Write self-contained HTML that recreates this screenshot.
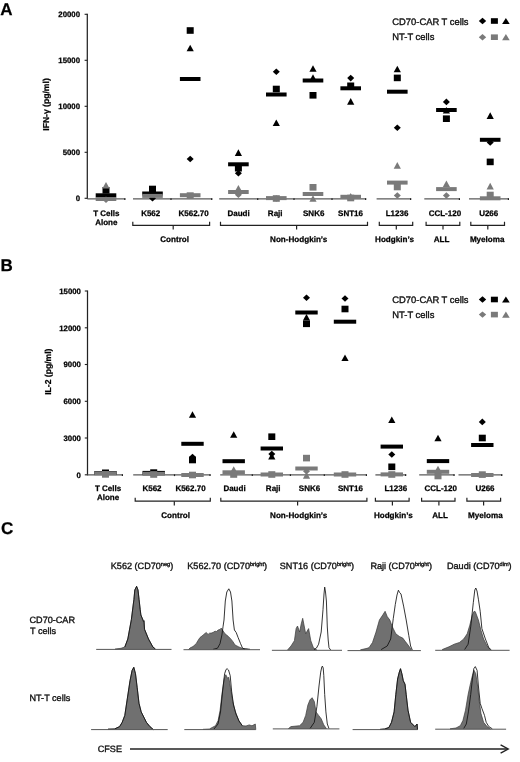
<!DOCTYPE html>
<html><head><meta charset="utf-8"><title>Figure</title>
<style>html,body{margin:0;padding:0;background:#fff;}body{width:520px;height:762px;overflow:hidden;font-family:"Liberation Sans",sans-serif;}svg{display:block;will-change:transform;}</style></head>
<body>
<svg width="520" height="762" viewBox="0 0 520 762" font-family="'Liberation Sans', sans-serif" text-rendering="geometricPrecision">
<rect width="520" height="762" fill="#fff"/>
<text x="0.2" y="15.3" font-size="17" text-anchor="start" font-weight="bold" fill="#000" stroke="#000" stroke-width="0.25">A</text>
<text x="0.6" y="270.9" font-size="17" text-anchor="start" font-weight="bold" fill="#000" stroke="#000" stroke-width="0.25">B</text>
<text x="0.9" y="534.3" font-size="17" text-anchor="start" font-weight="bold" fill="#000" stroke="#000" stroke-width="0.25">C</text>
<line x1="87.3" y1="13.8" x2="87.3" y2="198.9" stroke="#222" stroke-width="1.25"/>
<line x1="84.6" y1="14.3" x2="87.3" y2="14.3" stroke="#222" stroke-width="1.1"/>
<text x="80" y="17.1" font-size="7.8" text-anchor="end" font-weight="bold" fill="#000" stroke="#000" stroke-width="0.25">20000</text>
<line x1="84.6" y1="60.3" x2="87.3" y2="60.3" stroke="#222" stroke-width="1.1"/>
<text x="80" y="63.1" font-size="7.8" text-anchor="end" font-weight="bold" fill="#000" stroke="#000" stroke-width="0.25">15000</text>
<line x1="84.6" y1="106.3" x2="87.3" y2="106.3" stroke="#222" stroke-width="1.1"/>
<text x="80" y="109.1" font-size="7.8" text-anchor="end" font-weight="bold" fill="#000" stroke="#000" stroke-width="0.25">10000</text>
<line x1="84.6" y1="152.3" x2="87.3" y2="152.3" stroke="#222" stroke-width="1.1"/>
<text x="80" y="155.1" font-size="7.8" text-anchor="end" font-weight="bold" fill="#000" stroke="#000" stroke-width="0.25">5000</text>
<line x1="84.6" y1="198.3" x2="87.3" y2="198.3" stroke="#222" stroke-width="1.1"/>
<text x="80" y="201.1" font-size="7.8" text-anchor="end" font-weight="bold" fill="#000" stroke="#000" stroke-width="0.25">0</text>
<text x="48.9" y="104.5" font-size="8.6" text-anchor="middle" font-weight="bold" fill="#000" stroke="#000" stroke-width="0.25" transform="rotate(-90 48.9 104.5)">IFN-γ (pg/ml)</text>
<line x1="87.3" y1="198.9" x2="125.4" y2="198.9" stroke="#5a5a5a" stroke-width="1.3"/>
<line x1="124.8" y1="198.3" x2="124.8" y2="200.1" stroke="#222" stroke-width="1.2"/>
<line x1="133" y1="198.9" x2="212.3" y2="198.9" stroke="#5a5a5a" stroke-width="1.3"/>
<line x1="211.7" y1="198.3" x2="211.7" y2="200.1" stroke="#222" stroke-width="1.2"/>
<line x1="219.2" y1="198.9" x2="366.2" y2="198.9" stroke="#5a5a5a" stroke-width="1.3"/>
<line x1="365.6" y1="198.3" x2="365.6" y2="200.1" stroke="#222" stroke-width="1.2"/>
<line x1="376.6" y1="198.9" x2="411.2" y2="198.9" stroke="#5a5a5a" stroke-width="1.3"/>
<line x1="410.6" y1="198.3" x2="410.6" y2="200.1" stroke="#222" stroke-width="1.2"/>
<line x1="424.3" y1="198.9" x2="460" y2="198.9" stroke="#5a5a5a" stroke-width="1.3"/>
<line x1="459.4" y1="198.3" x2="459.4" y2="200.1" stroke="#222" stroke-width="1.2"/>
<line x1="469" y1="198.9" x2="509" y2="198.9" stroke="#5a5a5a" stroke-width="1.3"/>
<line x1="508.4" y1="198.3" x2="508.4" y2="200.1" stroke="#222" stroke-width="1.2"/>
<line x1="171" y1="198.3" x2="171" y2="200.1" stroke="#222" stroke-width="1.2"/>
<line x1="257.7" y1="198.3" x2="257.7" y2="200.1" stroke="#222" stroke-width="1.2"/>
<line x1="294" y1="198.3" x2="294" y2="200.1" stroke="#222" stroke-width="1.2"/>
<line x1="332" y1="198.3" x2="332" y2="200.1" stroke="#222" stroke-width="1.2"/>
<rect x="95.7" y="193.3" width="20.6" height="4" fill="#000"/>
<rect x="102.5" y="187" width="7" height="6.6" fill="#000"/>
<path d="M152.5 195L156 198.3L152.5 201.6L149 198.3Z" fill="#000"/>
<rect x="149" y="185.7" width="7" height="6.6" fill="#000"/>
<rect x="142.2" y="191.5" width="20.6" height="4" fill="#000"/>
<rect x="186.7" y="27.2" width="7" height="6.6" fill="#000"/>
<path d="M190.2 44.7L193.8 51.3L186.6 51.3Z" fill="#000"/>
<rect x="179.9" y="77" width="20.6" height="4" fill="#000"/>
<path d="M190.2 155.7L193.7 159L190.2 162.3L186.7 159Z" fill="#000"/>
<path d="M238.4 149.3L242 155.9L234.8 155.9Z" fill="#000"/>
<rect x="228.1" y="162.3" width="20.6" height="4" fill="#000"/>
<rect x="234.9" y="164.9" width="7" height="6.6" fill="#000"/>
<path d="M238.4 170L241.9 173.3L238.4 176.6L234.9 173.3Z" fill="#000"/>
<path d="M276.3 68.5L279.8 71.8L276.3 75.1L272.8 71.8Z" fill="#000"/>
<rect x="272.8" y="85.7" width="7" height="6.6" fill="#000"/>
<rect x="266" y="92.5" width="20.6" height="4" fill="#000"/>
<path d="M276.3 119.4L279.9 126L272.7 126Z" fill="#000"/>
<path d="M313 65.2L316.6 71.8L309.4 71.8Z" fill="#000"/>
<path d="M313 74.3L316.6 80.9L309.4 80.9Z" fill="#000"/>
<rect x="302.7" y="78.5" width="20.6" height="4" fill="#000"/>
<rect x="309.5" y="92" width="7" height="6.6" fill="#000"/>
<path d="M350.7 74.8L354.2 78.1L350.7 81.4L347.2 78.1Z" fill="#000"/>
<rect x="347.2" y="82.5" width="7" height="6.6" fill="#000"/>
<rect x="340.4" y="86.3" width="20.6" height="4" fill="#000"/>
<path d="M350.7 98.1L354.3 104.7L347.1 104.7Z" fill="#000"/>
<path d="M397.3 65.7L400.9 72.3L393.7 72.3Z" fill="#000"/>
<rect x="393.8" y="74.6" width="7" height="6.6" fill="#000"/>
<rect x="387" y="89.7" width="20.6" height="4" fill="#000"/>
<path d="M397.3 124.4L400.8 127.7L397.3 131L393.8 127.7Z" fill="#000"/>
<path d="M446.4 98.6L449.9 101.9L446.4 105.2L442.9 101.9Z" fill="#000"/>
<path d="M446.4 107L450 113.6L442.8 113.6Z" fill="#000"/>
<rect x="436.1" y="108" width="20.6" height="4" fill="#000"/>
<rect x="442.9" y="115.4" width="7" height="6.6" fill="#000"/>
<path d="M490.2 112.3L493.8 118.9L486.6 118.9Z" fill="#000"/>
<path d="M490.2 139.2L493.7 142.5L490.2 145.8L486.7 142.5Z" fill="#000"/>
<rect x="479.9" y="137.8" width="20.6" height="4" fill="#000"/>
<rect x="486.7" y="158.6" width="7" height="6.6" fill="#000"/>
<path d="M106 181.9L109.6 188.5L102.4 188.5Z" fill="#7a7a7a"/>
<rect x="95.7" y="197" width="20.6" height="4" fill="#7a7a7a"/>
<path d="M106 196.5L109.5 199.8L106 203.1L102.5 199.8Z" fill="#7a7a7a"/>
<rect x="142.2" y="193.9" width="20.6" height="4" fill="#7a7a7a"/>
<rect x="186.7" y="192.3" width="7" height="6.6" fill="#7a7a7a"/>
<rect x="179.9" y="193.2" width="20.6" height="4" fill="#7a7a7a"/>
<path d="M238.4 184.9L242 191.5L234.8 191.5Z" fill="#7a7a7a"/>
<rect x="228.1" y="190" width="20.6" height="4" fill="#7a7a7a"/>
<path d="M238.4 191.5L241.9 194.8L238.4 198.1L234.9 194.8Z" fill="#7a7a7a"/>
<rect x="272.8" y="195.2" width="7" height="6.6" fill="#7a7a7a"/>
<rect x="266" y="196.1" width="20.6" height="4" fill="#7a7a7a"/>
<path d="M276.3 195.2L279.8 198.5L276.3 201.8L272.8 198.5Z" fill="#7a7a7a"/>
<rect x="309.5" y="184" width="7" height="6.6" fill="#7a7a7a"/>
<rect x="302.7" y="192" width="20.6" height="4" fill="#7a7a7a"/>
<path d="M313 195.2L316.6 201.8L309.4 201.8Z" fill="#7a7a7a"/>
<path d="M350.7 193L354.3 199.6L347.1 199.6Z" fill="#7a7a7a"/>
<rect x="347.2" y="194.7" width="7" height="6.6" fill="#7a7a7a"/>
<rect x="340.4" y="194.8" width="20.6" height="4" fill="#7a7a7a"/>
<path d="M397.3 162.1L400.9 168.7L393.7 168.7Z" fill="#7a7a7a"/>
<rect x="387" y="180.6" width="20.6" height="4" fill="#7a7a7a"/>
<rect x="393.8" y="183.7" width="7" height="6.6" fill="#7a7a7a"/>
<path d="M397.3 192.2L400.8 195.5L397.3 198.8L393.8 195.5Z" fill="#7a7a7a"/>
<path d="M446.4 180.4L450 187L442.8 187Z" fill="#7a7a7a"/>
<rect x="436.1" y="187.1" width="20.6" height="4" fill="#7a7a7a"/>
<path d="M446.4 192.2L449.9 195.5L446.4 198.8L442.9 195.5Z" fill="#7a7a7a"/>
<path d="M490.2 182.8L493.8 189.4L486.6 189.4Z" fill="#7a7a7a"/>
<rect x="486.7" y="191.7" width="7" height="6.6" fill="#7a7a7a"/>
<rect x="479.9" y="196.3" width="20.6" height="4" fill="#7a7a7a"/>
<text x="106.3" y="216.2" font-size="8" text-anchor="middle" font-weight="bold" fill="#000" stroke="#000" stroke-width="0.25">T Cells</text>
<text x="106.3" y="224.7" font-size="8" text-anchor="middle" font-weight="bold" fill="#000" stroke="#000" stroke-width="0.25">Alone</text>
<text x="150.7" y="216.2" font-size="8" text-anchor="middle" font-weight="bold" fill="#000" stroke="#000" stroke-width="0.25">K562</text>
<text x="193.6" y="216.2" font-size="8" text-anchor="middle" font-weight="bold" fill="#000" stroke="#000" stroke-width="0.25">K562.70</text>
<text x="238.6" y="216.2" font-size="8" text-anchor="middle" font-weight="bold" fill="#000" stroke="#000" stroke-width="0.25">Daudi</text>
<text x="275.2" y="216.2" font-size="8" text-anchor="middle" font-weight="bold" fill="#000" stroke="#000" stroke-width="0.25">Raji</text>
<text x="313.7" y="216.2" font-size="8" text-anchor="middle" font-weight="bold" fill="#000" stroke="#000" stroke-width="0.25">SNK6</text>
<text x="350.5" y="216.2" font-size="8" text-anchor="middle" font-weight="bold" fill="#000" stroke="#000" stroke-width="0.25">SNT16</text>
<text x="397" y="216.2" font-size="8" text-anchor="middle" font-weight="bold" fill="#000" stroke="#000" stroke-width="0.25">L1236</text>
<text x="444.9" y="216.2" font-size="8" text-anchor="middle" font-weight="bold" fill="#000" stroke="#000" stroke-width="0.25">CCL-120</text>
<text x="488.7" y="216.2" font-size="8" text-anchor="middle" font-weight="bold" fill="#000" stroke="#000" stroke-width="0.25">U266</text>
<path d="M132.8 221.8V225.3H209.6V221.8" fill="none" stroke="#222" stroke-width="1.2"/>
<line x1="173.2" y1="225.3" x2="173.2" y2="229.5" stroke="#222" stroke-width="1.2"/>
<text x="174.6" y="241.8" font-size="8.1" text-anchor="middle" font-weight="bold" fill="#000" stroke="#000" stroke-width="0.25">Control</text>
<path d="M220.5 221.8V225.3H367.5V221.8" fill="none" stroke="#222" stroke-width="1.2"/>
<line x1="296.6" y1="225.3" x2="296.6" y2="229.5" stroke="#222" stroke-width="1.2"/>
<text x="298.7" y="241.8" font-size="8.1" text-anchor="middle" font-weight="bold" fill="#000" stroke="#000" stroke-width="0.25">Non-Hodgkin’s</text>
<path d="M379.3 221.8V225.3H412.7V221.8" fill="none" stroke="#222" stroke-width="1.2"/>
<line x1="396.3" y1="225.3" x2="396.3" y2="229.5" stroke="#222" stroke-width="1.2"/>
<text x="394.5" y="241.8" font-size="8.1" text-anchor="middle" font-weight="bold" fill="#000" stroke="#000" stroke-width="0.25">Hodgkin’s</text>
<path d="M426.1 221.8V225.3H459.8V221.8" fill="none" stroke="#222" stroke-width="1.2"/>
<line x1="443" y1="225.3" x2="443" y2="229.5" stroke="#222" stroke-width="1.2"/>
<text x="441.6" y="241.8" font-size="8.1" text-anchor="middle" font-weight="bold" fill="#000" stroke="#000" stroke-width="0.25">ALL</text>
<path d="M470.8 221.8V225.3H504.5V221.8" fill="none" stroke="#222" stroke-width="1.2"/>
<line x1="487.8" y1="225.3" x2="487.8" y2="229.5" stroke="#222" stroke-width="1.2"/>
<text x="487.2" y="241.8" font-size="8.1" text-anchor="middle" font-weight="bold" fill="#000" stroke="#000" stroke-width="0.25">Myeloma</text>
<text x="392.3" y="25.1" font-size="9.4" text-anchor="start" fill="#111" stroke="#111" stroke-width="0.35">CD70-CAR T cells</text>
<text x="392.3" y="40.1" font-size="9.4" text-anchor="start" fill="#111" stroke="#111" stroke-width="0.35">NT-T cells</text>
<path d="M482.5 17.8L486.2 21L482.5 24.2L478.8 21Z" fill="#000"/>
<rect x="490.9" y="18.2" width="7" height="5.6" fill="#000"/>
<path d="M505.9 17.9L509.7 24.1L502.1 24.1Z" fill="#000"/>
<path d="M482.5 34L486.2 37.2L482.5 40.4L478.8 37.2Z" fill="#7a7a7a"/>
<rect x="490.9" y="34.4" width="7" height="5.6" fill="#7a7a7a"/>
<path d="M505.9 34.1L509.7 40.3L502.1 40.3Z" fill="#7a7a7a"/>
<line x1="87.5" y1="290.5" x2="87.5" y2="475.4" stroke="#222" stroke-width="1.25"/>
<line x1="84.8" y1="291" x2="87.5" y2="291" stroke="#222" stroke-width="1.1"/>
<text x="80.9" y="293.8" font-size="7.8" text-anchor="end" font-weight="bold" fill="#000" stroke="#000" stroke-width="0.25">15000</text>
<line x1="84.8" y1="327.8" x2="87.5" y2="327.8" stroke="#222" stroke-width="1.1"/>
<text x="80.9" y="330.6" font-size="7.8" text-anchor="end" font-weight="bold" fill="#000" stroke="#000" stroke-width="0.25">12000</text>
<line x1="84.8" y1="364.5" x2="87.5" y2="364.5" stroke="#222" stroke-width="1.1"/>
<text x="80.9" y="367.3" font-size="7.8" text-anchor="end" font-weight="bold" fill="#000" stroke="#000" stroke-width="0.25">9000</text>
<line x1="84.8" y1="401.3" x2="87.5" y2="401.3" stroke="#222" stroke-width="1.1"/>
<text x="80.9" y="404.1" font-size="7.8" text-anchor="end" font-weight="bold" fill="#000" stroke="#000" stroke-width="0.25">6000</text>
<line x1="84.8" y1="438" x2="87.5" y2="438" stroke="#222" stroke-width="1.1"/>
<text x="80.9" y="440.8" font-size="7.8" text-anchor="end" font-weight="bold" fill="#000" stroke="#000" stroke-width="0.25">3000</text>
<line x1="84.8" y1="474.8" x2="87.5" y2="474.8" stroke="#222" stroke-width="1.1"/>
<text x="80.9" y="477.6" font-size="7.8" text-anchor="end" font-weight="bold" fill="#000" stroke="#000" stroke-width="0.25">0</text>
<text x="50.9" y="371.7" font-size="8.6" text-anchor="middle" font-weight="bold" fill="#000" stroke="#000" stroke-width="0.25" transform="rotate(-90 50.9 371.7)">IL-2 (pg/ml)</text>
<line x1="87.5" y1="474.9" x2="123" y2="474.9" stroke="#5a5a5a" stroke-width="1.3"/>
<line x1="122.4" y1="474.3" x2="122.4" y2="476.1" stroke="#222" stroke-width="1.2"/>
<line x1="133.2" y1="474.9" x2="210.6" y2="474.9" stroke="#5a5a5a" stroke-width="1.3"/>
<line x1="210" y1="474.3" x2="210" y2="476.1" stroke="#222" stroke-width="1.2"/>
<line x1="220.2" y1="474.9" x2="367" y2="474.9" stroke="#5a5a5a" stroke-width="1.3"/>
<line x1="366.4" y1="474.3" x2="366.4" y2="476.1" stroke="#222" stroke-width="1.2"/>
<line x1="375.4" y1="474.9" x2="406.2" y2="474.9" stroke="#5a5a5a" stroke-width="1.3"/>
<line x1="405.6" y1="474.3" x2="405.6" y2="476.1" stroke="#222" stroke-width="1.2"/>
<line x1="419.2" y1="474.9" x2="454.6" y2="474.9" stroke="#5a5a5a" stroke-width="1.3"/>
<line x1="454" y1="474.3" x2="454" y2="476.1" stroke="#222" stroke-width="1.2"/>
<line x1="458.5" y1="474.9" x2="502.3" y2="474.9" stroke="#5a5a5a" stroke-width="1.3"/>
<line x1="501.7" y1="474.3" x2="501.7" y2="476.1" stroke="#222" stroke-width="1.2"/>
<line x1="174.5" y1="474.3" x2="174.5" y2="476.1" stroke="#222" stroke-width="1.2"/>
<line x1="252.3" y1="474.3" x2="252.3" y2="476.1" stroke="#222" stroke-width="1.2"/>
<line x1="290.4" y1="474.3" x2="290.4" y2="476.1" stroke="#222" stroke-width="1.2"/>
<line x1="324.3" y1="474.3" x2="324.3" y2="476.1" stroke="#222" stroke-width="1.2"/>
<rect x="94.3" y="471" width="22.4" height="4" fill="#000"/>
<rect x="102" y="469.5" width="7" height="6.6" fill="#000"/>
<rect x="142.5" y="470.9" width="22.4" height="4" fill="#000"/>
<rect x="150.2" y="469.3" width="7" height="6.6" fill="#000"/>
<path d="M192.5 411.2L196.1 417.8L188.9 417.8Z" fill="#000"/>
<rect x="181.3" y="441.8" width="22.4" height="4" fill="#000"/>
<path d="M192.5 453.7L196 457L192.5 460.3L189 457Z" fill="#000"/>
<rect x="189" y="456.7" width="7" height="6.6" fill="#000"/>
<path d="M233.7 431.2L237.3 437.8L230.1 437.8Z" fill="#000"/>
<rect x="222.5" y="459.2" width="22.4" height="4" fill="#000"/>
<rect x="268.3" y="433.4" width="7" height="6.6" fill="#000"/>
<rect x="260.6" y="446.5" width="22.4" height="4" fill="#000"/>
<path d="M271.8 450.7L275.3 454L271.8 457.3L268.3 454Z" fill="#000"/>
<path d="M271.8 452.8L275.4 459.4L268.2 459.4Z" fill="#000"/>
<path d="M306.5 294.4L310 297.7L306.5 301L303 297.7Z" fill="#000"/>
<rect x="295.3" y="310.5" width="22.4" height="4" fill="#000"/>
<path d="M306.5 314L310.1 320.6L302.9 320.6Z" fill="#000"/>
<rect x="303" y="320.5" width="7" height="6.6" fill="#000"/>
<path d="M345 295.2L348.5 298.5L345 301.8L341.5 298.5Z" fill="#000"/>
<rect x="341.5" y="305.7" width="7" height="6.6" fill="#000"/>
<rect x="333.8" y="319.7" width="22.4" height="4" fill="#000"/>
<path d="M345 354.4L348.6 361L341.4 361Z" fill="#000"/>
<path d="M391.8 416.4L395.4 423L388.2 423Z" fill="#000"/>
<rect x="380.6" y="444.6" width="22.4" height="4" fill="#000"/>
<path d="M391.8 451.2L395.3 454.5L391.8 457.8L388.3 454.5Z" fill="#000"/>
<rect x="388.3" y="463.5" width="7" height="6.6" fill="#000"/>
<path d="M438 434.7L441.6 441.3L434.4 441.3Z" fill="#000"/>
<rect x="426.8" y="459.1" width="22.4" height="4" fill="#000"/>
<path d="M482.3 418.6L485.8 421.9L482.3 425.2L478.8 421.9Z" fill="#000"/>
<rect x="478.8" y="434.7" width="7" height="6.6" fill="#000"/>
<rect x="471.1" y="443" width="22.4" height="4" fill="#000"/>
<rect x="94.3" y="471.3" width="22.4" height="4" fill="#7a7a7a"/>
<rect x="102" y="471.1" width="7" height="6.6" fill="#7a7a7a"/>
<rect x="142.5" y="471.8" width="22.4" height="4" fill="#7a7a7a"/>
<rect x="150.2" y="471.2" width="7" height="6.6" fill="#7a7a7a"/>
<rect x="189" y="471.7" width="7" height="6.6" fill="#7a7a7a"/>
<rect x="181.3" y="473" width="22.4" height="4" fill="#7a7a7a"/>
<path d="M233.7 466.2L237.3 472.8L230.1 472.8Z" fill="#7a7a7a"/>
<rect x="222.5" y="470.3" width="22.4" height="4" fill="#7a7a7a"/>
<rect x="230.2" y="471.2" width="7" height="6.6" fill="#7a7a7a"/>
<rect x="260.6" y="472.5" width="22.4" height="4" fill="#7a7a7a"/>
<rect x="268.3" y="471.2" width="7" height="6.6" fill="#7a7a7a"/>
<rect x="303" y="454.8" width="7" height="6.6" fill="#7a7a7a"/>
<path d="M306.5 467.9L310 471.2L306.5 474.5L303 471.2Z" fill="#7a7a7a"/>
<rect x="295.3" y="466.5" width="22.4" height="4" fill="#7a7a7a"/>
<path d="M306.5 472.1L310.1 478.7L302.9 478.7Z" fill="#7a7a7a"/>
<rect x="333.8" y="472.5" width="22.4" height="4" fill="#7a7a7a"/>
<rect x="341.5" y="471.2" width="7" height="6.6" fill="#7a7a7a"/>
<rect x="380.6" y="472.4" width="22.4" height="4" fill="#7a7a7a"/>
<rect x="388.3" y="471.2" width="7" height="6.6" fill="#7a7a7a"/>
<path d="M438 465.7L441.6 472.3L434.4 472.3Z" fill="#7a7a7a"/>
<rect x="426.8" y="469.8" width="22.4" height="4" fill="#7a7a7a"/>
<rect x="434.5" y="472.7" width="7" height="6.6" fill="#7a7a7a"/>
<rect x="471.1" y="473" width="22.4" height="4" fill="#7a7a7a"/>
<rect x="478.8" y="471.3" width="7" height="6.6" fill="#7a7a7a"/>
<text x="108" y="491.1" font-size="8" text-anchor="middle" font-weight="bold" fill="#000" stroke="#000" stroke-width="0.25">T Cells</text>
<text x="108" y="499.6" font-size="8" text-anchor="middle" font-weight="bold" fill="#000" stroke="#000" stroke-width="0.25">Alone</text>
<text x="152" y="491.1" font-size="8" text-anchor="middle" font-weight="bold" fill="#000" stroke="#000" stroke-width="0.25">K562</text>
<text x="190.5" y="491.1" font-size="8" text-anchor="middle" font-weight="bold" fill="#000" stroke="#000" stroke-width="0.25">K562.70</text>
<text x="234.5" y="491.1" font-size="8" text-anchor="middle" font-weight="bold" fill="#000" stroke="#000" stroke-width="0.25">Daudi</text>
<text x="273.2" y="491.1" font-size="8" text-anchor="middle" font-weight="bold" fill="#000" stroke="#000" stroke-width="0.25">Raji</text>
<text x="309.5" y="491.1" font-size="8" text-anchor="middle" font-weight="bold" fill="#000" stroke="#000" stroke-width="0.25">SNK6</text>
<text x="350.4" y="491.1" font-size="8" text-anchor="middle" font-weight="bold" fill="#000" stroke="#000" stroke-width="0.25">SNT16</text>
<text x="395.8" y="491.1" font-size="8" text-anchor="middle" font-weight="bold" fill="#000" stroke="#000" stroke-width="0.25">L1236</text>
<text x="440.7" y="491.1" font-size="8" text-anchor="middle" font-weight="bold" fill="#000" stroke="#000" stroke-width="0.25">CCL-120</text>
<text x="485" y="491.1" font-size="8" text-anchor="middle" font-weight="bold" fill="#000" stroke="#000" stroke-width="0.25">U266</text>
<path d="M135.2 497.7V501.2H210.3V497.7" fill="none" stroke="#222" stroke-width="1.2"/>
<line x1="174.3" y1="501.2" x2="174.3" y2="505.4" stroke="#222" stroke-width="1.2"/>
<text x="175.6" y="517.9" font-size="8.1" text-anchor="middle" font-weight="bold" fill="#000" stroke="#000" stroke-width="0.25">Control</text>
<path d="M220.8 497.7V501.2H366.9V497.7" fill="none" stroke="#222" stroke-width="1.2"/>
<line x1="297.6" y1="501.2" x2="297.6" y2="505.4" stroke="#222" stroke-width="1.2"/>
<text x="298.7" y="517.9" font-size="8.1" text-anchor="middle" font-weight="bold" fill="#000" stroke="#000" stroke-width="0.25">Non-Hodgkin’s</text>
<path d="M375.4 497.7V501.2H409.1V497.7" fill="none" stroke="#222" stroke-width="1.2"/>
<line x1="392.4" y1="501.2" x2="392.4" y2="505.4" stroke="#222" stroke-width="1.2"/>
<text x="393.3" y="517.9" font-size="8.1" text-anchor="middle" font-weight="bold" fill="#000" stroke="#000" stroke-width="0.25">Hodgkin’s</text>
<path d="M421.6 497.7V501.2H455V497.7" fill="none" stroke="#222" stroke-width="1.2"/>
<line x1="438.9" y1="501.2" x2="438.9" y2="505.4" stroke="#222" stroke-width="1.2"/>
<text x="440" y="517.9" font-size="8.1" text-anchor="middle" font-weight="bold" fill="#000" stroke="#000" stroke-width="0.25">ALL</text>
<path d="M466.9 497.7V501.2H500.6V497.7" fill="none" stroke="#222" stroke-width="1.2"/>
<line x1="483.6" y1="501.2" x2="483.6" y2="505.4" stroke="#222" stroke-width="1.2"/>
<text x="485.4" y="517.9" font-size="8.1" text-anchor="middle" font-weight="bold" fill="#000" stroke="#000" stroke-width="0.25">Myeloma</text>
<text x="392.3" y="303.1" font-size="9.4" text-anchor="start" fill="#111" stroke="#111" stroke-width="0.35">CD70-CAR T cells</text>
<text x="392.3" y="318.2" font-size="9.4" text-anchor="start" fill="#111" stroke="#111" stroke-width="0.35">NT-T cells</text>
<path d="M482.5 296.3L486.2 299.5L482.5 302.7L478.8 299.5Z" fill="#000"/>
<rect x="490.9" y="296.7" width="7" height="5.6" fill="#000"/>
<path d="M505.9 296.4L509.7 302.6L502.1 302.6Z" fill="#000"/>
<path d="M482.5 311.4L486.2 314.6L482.5 317.8L478.8 314.6Z" fill="#7a7a7a"/>
<rect x="490.9" y="311.8" width="7" height="5.6" fill="#7a7a7a"/>
<path d="M505.9 311.5L509.7 317.7L502.1 317.7Z" fill="#7a7a7a"/>
<text x="110.8" y="568.6" font-size="9.1" text-anchor="start" fill="#111" stroke="#111" stroke-width="0.35">K562 (CD70<tspan font-size="5.6" dy="-3">neg</tspan><tspan dy="3">)</tspan></text>
<text x="187.3" y="568.6" font-size="9.1" text-anchor="start" fill="#111" stroke="#111" stroke-width="0.35">K562.70 (CD70<tspan font-size="5.6" dy="-3">bright</tspan><tspan dy="3">)</tspan></text>
<text x="279.8" y="568.6" font-size="9.1" text-anchor="start" fill="#111" stroke="#111" stroke-width="0.35">SNT16 (CD70<tspan font-size="5.6" dy="-3">bright</tspan><tspan dy="3">)</tspan></text>
<text x="370.4" y="568.6" font-size="9.1" text-anchor="start" fill="#111" stroke="#111" stroke-width="0.35">Raji (CD70<tspan font-size="5.6" dy="-3">bright</tspan><tspan dy="3">)</tspan></text>
<text x="447" y="568.6" font-size="9.1" text-anchor="start" fill="#111" stroke="#111" stroke-width="0.35">Daudi (CD70<tspan font-size="5.6" dy="-3">dim</tspan><tspan dy="3">)</tspan></text>
<text x="29.5" y="622.9" font-size="9.1" text-anchor="start" fill="#111" stroke="#111" stroke-width="0.35">CD70-CAR</text>
<text x="30" y="634.2" font-size="9.1" text-anchor="start" fill="#111" stroke="#111" stroke-width="0.35">T cells</text>
<text x="29.5" y="700.8" font-size="9.1" text-anchor="start" fill="#111" stroke="#111" stroke-width="0.35">NT-T cells</text>
<text x="97.7" y="751.9" font-size="9.1" text-anchor="start" fill="#111" stroke="#111" stroke-width="0.35">CFSE</text>
<line x1="130" y1="749" x2="507.5" y2="749" stroke="#222" stroke-width="1.4"/>
<path d="M500.6 744.8L508.2 749L500.6 753.1" fill="none" stroke="#222" stroke-width="1.4"/>
<path d="M115,649.4 L115,649 121,648.3 124.8,647 127.8,639 131.4,619.4 133.2,605 133.9,599.7 134.8,590 136.6,586.3 138,590 139.1,599.7 140.2,609.5 140.9,615 143.5,621.3 144,620.8 144.5,629.2 148.5,639 152.9,647 155.4,649 L155.4,649.4 Z" fill="#707070"/>
<polyline points="115,649 121,648.3 124.8,647 127.8,639 131.4,619.4 133.2,605 133.9,599.7 134.8,590 136.6,586.3 138,590 139.1,599.7 140.2,609.5 140.9,615 143.5,621.3 144,620.8 144.5,629.2 148.5,639 152.9,647 155.4,649" fill="none" stroke="#3a3a3a" stroke-width="0.7" stroke-linejoin="round"/>
<polyline points="124.8,647 127.8,639 131.4,619.4 133.2,605 133.9,599.7 134.8,590 136.6,586.3 138,590 139.1,599.7 140.2,609.5 140.9,615 143.5,621.3 144,620.8 144.5,629.2 148.5,639 152.9,647 155.4,649" fill="none" stroke="#111" stroke-width="0.85" stroke-linejoin="round"/>
<line x1="96.2" y1="649.4" x2="171.5" y2="649.4" stroke="#555" stroke-width="1"/>
<path d="M188.5,649.7 L188.5,649.5 190,648 193,646.5 196.2,643.7 198,640.5 200,637.5 202,636 203.8,634.4 206.2,632.5 208.1,634.4 209.5,633.2 211.2,633.1 213,632.5 215,631.2 216.5,631.5 218.1,630 220,629.5 221.2,628.1 222.5,630 225,633.8 228.1,636.2 231.2,639.4 233.1,641.9 235,645 238.8,646.9 242.5,648.5 246,648.6 250,649.2 L250,649.7 Z" fill="#707070"/>
<polyline points="188.5,649.5 190,648 193,646.5 196.2,643.7 198,640.5 200,637.5 202,636 203.8,634.4 206.2,632.5 208.1,634.4 209.5,633.2 211.2,633.1 213,632.5 215,631.2 216.5,631.5 218.1,630 220,629.5 221.2,628.1 222.5,630 225,633.8 228.1,636.2 231.2,639.4 233.1,641.9 235,645 238.8,646.9 242.5,648.5 246,648.6 250,649.2" fill="none" stroke="#3a3a3a" stroke-width="0.7" stroke-linejoin="round"/>
<polyline points="213,649.4 217.5,648.2 220,643.7 221.9,635 223.1,626.2 224,620 225.3,601 226.8,592 228.8,588.8 230.5,592 231.9,601 233.1,620 234.4,630 236.2,632.5 238.1,637.5 240.6,643.7 242.5,648.1 245,649.3" fill="none" stroke="#111" stroke-width="0.85" stroke-linejoin="round"/>
<line x1="183.5" y1="649.7" x2="260" y2="649.7" stroke="#555" stroke-width="1"/>
<path d="M287.5,650.3 L287.5,650 291,646 294.4,640.7 296.1,628.6 297.5,626 299.6,632 301.2,624 302.7,618.3 304,625 305.7,633.8 307.2,631 308.6,628.6 310.8,640.7 313.4,647.7 316.9,650 L316.9,650.3 Z" fill="#707070"/>
<polyline points="287.5,650 291,646 294.4,640.7 296.1,628.6 297.5,626 299.6,632 301.2,624 302.7,618.3 304,625 305.7,633.8 307.2,631 308.6,628.6 310.8,640.7 313.4,647.7 316.9,650" fill="none" stroke="#3a3a3a" stroke-width="0.7" stroke-linejoin="round"/>
<polyline points="314,649.8 316.5,648 318.6,644.2 321.2,632 323,609.6 324,594 324.7,587.1 325.5,592 326.4,601 327.3,627 328.2,640 329,647.7 330.7,650" fill="none" stroke="#111" stroke-width="0.85" stroke-linejoin="round"/>
<line x1="271.9" y1="650.3" x2="342" y2="650.3" stroke="#555" stroke-width="1"/>
<path d="M360.4,650.6 L360.4,649.8 366,648.6 369,647.7 372.5,642.5 376,632.1 379.4,620 382.9,614.8 385.1,611.3 387.2,616.5 389.8,620 392.4,626.9 395.8,633.8 399.3,636.4 402.8,638.1 405.4,641.6 408.8,646 411.4,650 L411.4,650.6 Z" fill="#707070"/>
<polyline points="360.4,649.8 366,648.6 369,647.7 372.5,642.5 376,632.1 379.4,620 382.9,614.8 385.1,611.3 387.2,616.5 389.8,620 392.4,626.9 395.8,633.8 399.3,636.4 402.8,638.1 405.4,641.6 408.8,646 411.4,650" fill="none" stroke="#3a3a3a" stroke-width="0.7" stroke-linejoin="round"/>
<polyline points="381.1,649.6 387.2,646 390.7,639 393.3,618.3 395.3,604.4 397,595 398.4,590.2 399.6,592.5 401,594 403.6,606.1 406.2,620 408.8,635.6 410.6,646 412.3,650" fill="none" stroke="#111" stroke-width="0.85" stroke-linejoin="round"/>
<line x1="347.5" y1="650.6" x2="420.9" y2="650.6" stroke="#555" stroke-width="1"/>
<path d="M442.1,650.3 L442.1,649.6 449,646.8 454.2,644.2 459.4,642.5 463.7,639 467.2,633.8 469.8,625.2 472.4,614.8 474.1,611.3 475.3,611.7 478.4,620 481,630.4 483.6,639 487.1,646 490.6,650 L490.6,650.3 Z" fill="#707070"/>
<polyline points="442.1,649.6 449,646.8 454.2,644.2 459.4,642.5 463.7,639 467.2,633.8 469.8,625.2 472.4,614.8 474.1,611.3 475.3,611.7 478.4,620 481,630.4 483.6,639 487.1,646 490.6,650" fill="none" stroke="#3a3a3a" stroke-width="0.7" stroke-linejoin="round"/>
<polyline points="464.6,649.6 468.1,644.2 470.7,626.9 473.3,602.7 474.8,590 475.8,588 477,591 478.4,599.2 480.2,611.3 481.9,628.6 485.4,639 488.8,647.7 491.4,650" fill="none" stroke="#111" stroke-width="0.85" stroke-linejoin="round"/>
<line x1="435.2" y1="650.3" x2="509.6" y2="650.3" stroke="#555" stroke-width="1"/>
<path d="M108,729.6 L108,729.2 114.4,729 119.6,726.6 122.2,722.3 124.8,715.4 127.4,698.1 130,680.8 132.1,670.4 133.8,667.3 135.5,673.8 137.2,687.7 139,703.3 141.2,711.9 143.8,717.1 146.4,722.3 149.9,726.6 153.3,729.5 L153.3,729.6 Z" fill="#707070"/>
<polyline points="108,729.2 114.4,729 119.6,726.6 122.2,722.3 124.8,715.4 127.4,698.1 130,680.8 132.1,670.4 133.8,667.3 135.5,673.8 137.2,687.7 139,703.3 141.2,711.9 143.8,717.1 146.4,722.3 149.9,726.6 153.3,729.5" fill="none" stroke="#3a3a3a" stroke-width="0.7" stroke-linejoin="round"/>
<polyline points="108,729.2 114.4,729 119.6,726.6 122.2,722.3 124.8,715.4 127.4,698.1 130,680.8 132.1,670.4 133.8,667.3 135.5,673.8 137.2,687.7 139,703.3 141.2,711.9 143.8,717.1 146.4,722.3 149.9,726.6 153.3,729.5" fill="none" stroke="#111" stroke-width="0.85" stroke-linejoin="round"/>
<line x1="91.1" y1="729.6" x2="167.7" y2="729.6" stroke="#555" stroke-width="1"/>
<path d="M203,729.6 L203,729.3 209.4,729 215.5,725.7 218.1,720.6 220.1,710.2 221.9,694.6 224.1,679 225.8,674.7 227.6,678.2 228.8,677.3 230.5,687.7 232.8,701.5 235.4,711.9 238.8,720.6 242.3,725.7 246,726 249.2,724.9 252,725.8 255.3,724 255.8,729.6 L255.8,729.6 Z" fill="#707070"/>
<polyline points="203,729.3 209.4,729 215.5,725.7 218.1,720.6 220.1,710.2 221.9,694.6 224.1,679 225.8,674.7 227.6,678.2 228.8,677.3 230.5,687.7 232.8,701.5 235.4,711.9 238.8,720.6 242.3,725.7 246,726 249.2,724.9 252,725.8 255.3,724 255.8,729.6" fill="none" stroke="#3a3a3a" stroke-width="0.7" stroke-linejoin="round"/>
<polyline points="214,729 218,724 220.5,712 222.5,692 224.6,673.8 226,669.5 227.1,668.7 228.5,670 230.2,675.6 231.6,691.1 233.5,705 236,714 239,721 242.3,725.7" fill="none" stroke="#111" stroke-width="0.85" stroke-linejoin="round"/>
<line x1="184.3" y1="729.6" x2="255.8" y2="729.6" stroke="#555" stroke-width="1"/>
<path d="M288.4,728.9 L288.4,728.6 291,726.6 299.6,725.7 303.1,722.3 305.7,715.4 307.9,705 310,699.8 312.1,697.7 314.3,701.5 316,711.9 318.6,715.4 321.2,718.8 323.8,724.9 326.4,728.6 L326.4,728.9 Z" fill="#707070"/>
<polyline points="288.4,728.6 291,726.6 299.6,725.7 303.1,722.3 305.7,715.4 307.9,705 310,699.8 312.1,697.7 314.3,701.5 316,711.9 318.6,715.4 321.2,718.8 323.8,724.9 326.4,728.6" fill="none" stroke="#3a3a3a" stroke-width="0.7" stroke-linejoin="round"/>
<polyline points="310,728.6 314.3,722.3 316.9,706.7 319,686 320.7,672.1 321.8,667 322.4,666.1 323.2,668 323.8,675.6 324.7,694.6 325.9,711.9 327.3,724 329,728.6" fill="none" stroke="#111" stroke-width="0.85" stroke-linejoin="round"/>
<line x1="272.8" y1="728.9" x2="339.4" y2="728.9" stroke="#555" stroke-width="1"/>
<path d="M380,729.6 L380,729.4 384.6,729 388.9,727.5 391.5,722.3 394.1,711.9 395.8,694.6 397.6,679 399.3,672.1 400.5,668.7 401.9,673.8 403.3,680.8 405,684.2 406.2,694.6 408,710.2 410.6,722.3 414.9,726.6 417.1,724 417.5,729.6 L417.5,729.6 Z" fill="#707070"/>
<polyline points="380,729.4 384.6,729 388.9,727.5 391.5,722.3 394.1,711.9 395.8,694.6 397.6,679 399.3,672.1 400.5,668.7 401.9,673.8 403.3,680.8 405,684.2 406.2,694.6 408,710.2 410.6,722.3 414.9,726.6 417.1,724 417.5,729.6" fill="none" stroke="#3a3a3a" stroke-width="0.7" stroke-linejoin="round"/>
<polyline points="380,729.4 384.6,729 388.9,727.5 391.5,722.3 394.1,711.9 395.8,694.6 397.6,679 399.3,672.1 400.5,668.7 401.9,673.8 403.3,680.8 405,684.2 406.2,694.6 408,710.2 410.6,722.3 414.9,726.6 417.1,724 417.5,729.6" fill="none" stroke="#111" stroke-width="0.85" stroke-linejoin="round"/>
<line x1="352.6" y1="729.6" x2="417.5" y2="729.6" stroke="#555" stroke-width="1"/>
<path d="M450,729.2 L450,728.8 456,728 460.3,725.7 462.9,720.6 465.5,710.2 468.1,694.6 470.7,682.5 472.4,675.6 474.1,670.4 475.8,673.8 477.6,686 479.3,701.5 481,713.6 483.6,722.3 487.1,726.6 490.6,729 L490.6,729.2 Z" fill="#707070"/>
<polyline points="450,728.8 456,728 460.3,725.7 462.9,720.6 465.5,710.2 468.1,694.6 470.7,682.5 472.4,675.6 474.1,670.4 475.8,673.8 477.6,686 479.3,701.5 481,713.6 483.6,722.3 487.1,726.6 490.6,729" fill="none" stroke="#3a3a3a" stroke-width="0.7" stroke-linejoin="round"/>
<polyline points="463.7,728.5 466.3,724 468.4,711.9 470.7,694.6 472.4,679 473.8,668.7 475.3,666.6 477.1,670.4 478.4,686 480.2,703.3 481.9,708.4 484.5,715.4 486.2,722.3 488.8,726.6 492.3,728.8" fill="none" stroke="#111" stroke-width="0.85" stroke-linejoin="round"/>
<line x1="435.2" y1="729.2" x2="506.1" y2="729.2" stroke="#555" stroke-width="1"/>
</svg>
</body></html>
